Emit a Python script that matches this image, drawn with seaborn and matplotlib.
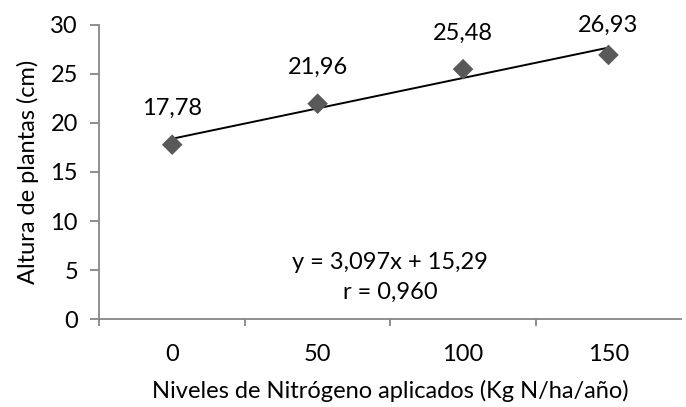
import matplotlib
matplotlib.use("Agg")
import matplotlib.pyplot as plt
import seaborn as sns
import numpy as np
import pandas as pd

categories = ["0", "50", "100", "150"]
heights = [17.78, 21.96, 25.48, 26.93]
value_labels = ["17,78", "21,96", "25,48", "26,93"]
slope = 3.097
intercept = 15.29
equation_text = "y = 3,097x + 15,29"
r_text = "r = 0,960"

sns.set_theme(style="white")
plt.rcParams["font.family"] = ["Lato", "DejaVu Sans"]
FS = 17

df = pd.DataFrame({"pos": np.arange(len(categories)), "h": heights})

fig = plt.figure(figsize=(6.86, 4.07), dpi=100)
ax = fig.add_axes([0.145, 0.216, 0.848, 0.723])

sns.scatterplot(data=df, x="pos", y="h", marker="D", s=110, color="#595959",
                edgecolor="none", ax=ax, zorder=3, clip_on=False)

idx = np.arange(1, len(categories) + 1)
trend = slope * idx + intercept
ax.plot(df["pos"], trend, color="black", lw=1.4, zorder=2)

label_offsets = [26, 26, 26, 21]
for p, h, t, off in zip(df["pos"], heights, value_labels, label_offsets):
    ax.annotate(t, (p, h), xytext=(0, off), textcoords="offset points",
                ha="center", va="center", fontsize=FS, color="black")

ax.text(0.5, 0.194, equation_text, transform=ax.transAxes, ha="center",
        va="center", fontsize=FS, color="black")
ax.text(0.5, 0.092, r_text, transform=ax.transAxes, ha="center",
        va="center", fontsize=FS, color="black")

ax.set_xlim(-0.5, 3.5)
ax.set_ylim(0, 30)
ax.set_yticks([0, 5, 10, 15, 20, 25, 30])
ax.set_xticks(range(len(categories)))
ax.set_xticklabels(categories)
ax.set_xticks([-0.5, 0.5, 1.5, 2.5], minor=True)
ax.tick_params(axis="x", which="major", length=0, pad=18, labelsize=FS, colors="black")
ax.tick_params(axis="x", which="minor", length=5, width=1.3, color="#868686", bottom=True)
ax.tick_params(axis="y", which="major", length=6.5, width=1.3, color="#868686",
               left=True, pad=9, labelsize=FS, labelcolor="black")

for s in ["top", "right"]:
    ax.spines[s].set_visible(False)
for s in ["left", "bottom"]:
    ax.spines[s].set_color("#868686")
    ax.spines[s].set_linewidth(1.3)

ax.set_xlabel("Niveles de Nitrógeno aplicados (Kg N/ha/año)", fontsize=FS,
              color="black", labelpad=11)
ax.set_ylabel("Altura de plantas (cm)", fontsize=FS, color="black", labelpad=8)

fig.savefig("out.png", dpi=100)
